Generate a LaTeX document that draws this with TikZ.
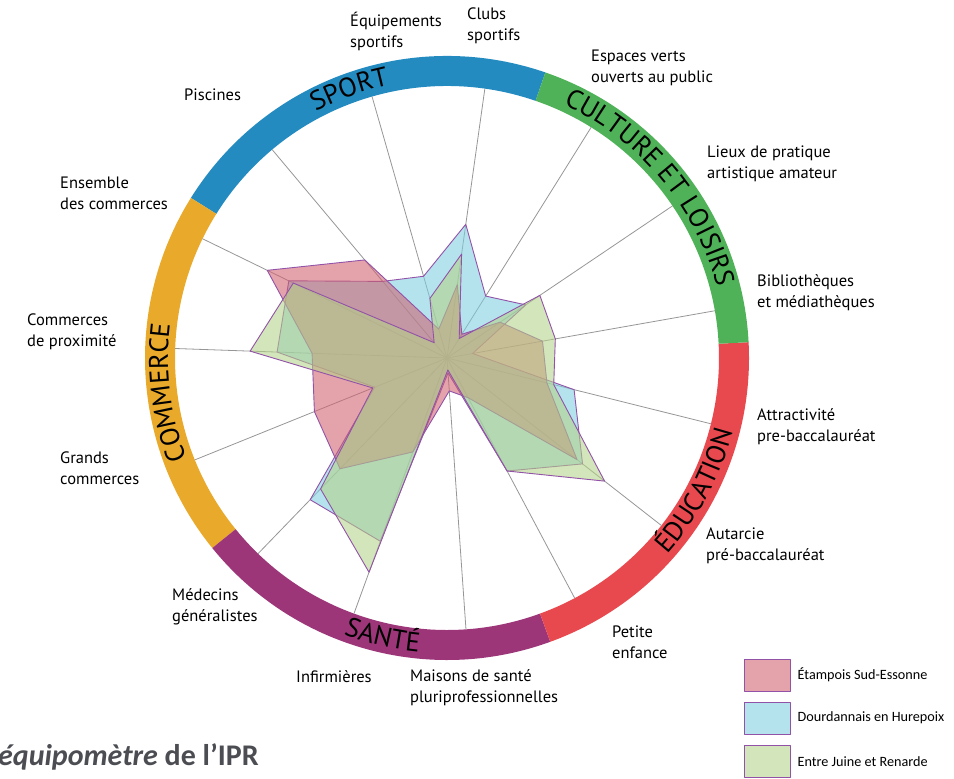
\documentclass[tikz,border=0pt]{standalone}
\usepackage{fontspec}
\setmainfont{PT Sans}
\newfontfamily\calibrifont{Carlito}
\usetikzlibrary{positioning,decorations.text}

\definecolor{sportblue}{RGB}{35,139,192}
\definecolor{culturegreen}{RGB}{80,178,88}
\definecolor{educred}{RGB}{232,73,78}
\definecolor{santepurple}{RGB}{156,54,121}
\definecolor{commerceorange}{RGB}{233,170,44}
\definecolor{spokegray}{RGB}{150,150,150}
\definecolor{zoneline}{RGB}{146,82,168}
\definecolor{etampoisfill}{RGB}{208,97,111}
\definecolor{dourdanfill}{RGB}{126,206,224}
\definecolor{juinefill}{RGB}{180,210,136}
\definecolor{titlegray}{RGB}{76,77,82}

\newcommand{\ringfont}{\fontsize{27}{27}\selectfont}

\begin{document}
\begin{tikzpicture}[x=1pt,y=1pt]
    \tikzstyle{spoke}=[draw=spokegray, line width=0.8pt];
    \tikzstyle{zone}=[draw=zoneline, line width=0.9pt, fill opacity=0.58, line join=round];
    \tikzstyle{etampois}=[zone, fill=etampoisfill];
    \tikzstyle{dourdan}=[zone, fill=dourdanfill];
    \tikzstyle{juine}=[zone, fill=juinefill];
    \tikzstyle{axislabel}=[align=left, anchor=west, inner sep=0pt, font=\fontsize{16.5}{21}\selectfont];
    \tikzstyle{legendbox}=[minimum width=46pt, minimum height=32pt, inner sep=0pt];
    \tikzstyle{legendtext}=[inner sep=0pt, font=\calibrifont\fontsize{14.2}{14}\selectfont];
    \useasboundingbox (0,0) rectangle (954,779);

    \begin{scope}[shift={(447,421)}]
        \coordinate (c) at (0,0);
        % ring
        \fill[sportblue] (71:302) arc[start angle=71, end angle=148, radius=302] -- (148:272) arc[start angle=148, end angle=71, radius=272] -- cycle;
        \fill[commerceorange] (148:302) arc[start angle=148, end angle=219, radius=302] -- (219:272) arc[start angle=219, end angle=148, radius=272] -- cycle;
        \fill[santepurple] (219:302) arc[start angle=219, end angle=290, radius=302] -- (290:272) arc[start angle=290, end angle=219, radius=272] -- cycle;
        \fill[educred] (290:302) arc[start angle=290, end angle=363, radius=302] -- (363:272) arc[start angle=363, end angle=290, radius=272] -- cycle;
        \fill[culturegreen] (3:302) arc[start angle=3, end angle=71, radius=302] -- (71:272) arc[start angle=71, end angle=3, radius=272] -- cycle;

        % spokes
        \foreach \a [count=\i] in {82,58,34,10,-14,-38,-62,-86,-110,-134,-158,178,154,130,106}
            \coordinate (s\i) at (\a:272);
        \foreach \i in {1,...,15}
            \draw[spoke] (c) -- (s\i);

        % the three territories
        \filldraw[dourdan] (82:135) -- (58:73) -- (34:95) -- (10:26) -- (-14:131) -- (-38:172) -- (-62:128) -- (-86:15) -- (-110:195) -- (-134:197) -- (-158:78) -- (178:170) -- (154:176) -- (130:100) -- (106:85) -- cycle;
        \filldraw[etampois] (82:74) -- (58:28) -- (34:64) -- (10:97) -- (-14:103) -- (-38:165) -- (-62:45) -- (-86:33) -- (-110:100) -- (-134:154) -- (-158:143) -- (178:135) -- (154:200) -- (130:128) -- (106:30) -- cycle;
        \filldraw[juine] (82:105) -- (58:23) -- (34:112) -- (10:110) -- (-14:110) -- (-38:200) -- (-62:128) -- (-86:12) -- (-110:228) -- (-134:182) -- (-158:80) -- (178:197) -- (154:171) -- (130:20) -- (106:62) -- cycle;

        % ring titles
        \path[decorate, decoration={text along path, text align=center, text={|\ringfont|SPORT}}]
            (140:279) arc[start angle=140, end angle=80, radius=279];
        \path[decorate, decoration={text along path, text align=center, text={|\ringfont|CULTURE ET LOISIRS}}]
            (78:279) arc[start angle=78, end angle=2, radius=279];
        \path[decorate, decoration={text along path, text align=center, text={|\ringfont|COMMERCE}}]
            (217:279) arc[start angle=217, end angle=157, radius=279];
        \path[decorate, decoration={text along path, text align=center, text={|\ringfont|SANTÉ}}]
            (227:295) arc[start angle=227, end angle=287, radius=295];
        \path[decorate, decoration={text along path, text align=center, text={|\ringfont|ÉDUCATION}}]
            (-58:295) arc[start angle=-58, end angle=2, radius=295];
    \end{scope}

    % axis labels
    \node[axislabel] (equip) at (350,748) {Équipements\\sportifs};
    \node[axislabel] (clubs) at (467,753) {Clubs\\sportifs};
    \node[axislabel] (espaces) at (591,711.5) {Espaces verts\\ouverts au public};
    \node[axislabel] (piscines) at (184,684) {Piscines};
    \node[axislabel] (lieux) at (707,615.5) {Lieux de pratique\\artistique amateur};
    \node[axislabel] (ensemble) at (60,586) {Ensemble\\des commerces};
    \node[axislabel] (biblio) at (757,486) {Bibliothèques\\et médiathèques};
    \node[axislabel] (proxi) at (27,447) {Commerces\\de proximité};
    \node[axislabel] (attract) at (757,352.5) {Attractivité\\pre-baccalauréat};
    \node[axislabel] (grands) at (60,310.5) {Grands\\commerces};
    \node[axislabel] (autarcie) at (706,233.5) {Autarcie\\pré-baccalauréat};
    \node[axislabel] (medecins) at (172,172.5) {Médecins\\généralistes};
    \node[axislabel] (petite) at (612,136.5) {Petite\\enfance};
    \node[axislabel] (infirm) at (296,102) {Infirmières};
    \node[axislabel] (maisons) at (410,91.5) {Maisons de santé\\pluriprofessionnelles};

    % legend
    \node[legendbox, etampois] (lg1) at (767,104) {};
    \node[legendbox, dourdan] (lg2) at (767,61) {};
    \node[legendbox, juine] (lg3) at (767,17.5) {};
    \node[legendtext, right=7pt of lg1] (lt1) {Étampois Sud-Essonne};
    \node[legendtext, right=7pt of lg2] (lt2) {Dourdannais en Hurepoix};
    \node[legendtext, right=7pt of lg3] (lt3) {Entre Juine et Renarde};

    % title
    \node[anchor=west, inner sep=0pt, text=titlegray, font=\calibrifont\bfseries\fontsize{30}{30}\selectfont] (title) at (-2,22) {\textit{équipomètre} de l’IPR};
\end{tikzpicture}
\end{document}
